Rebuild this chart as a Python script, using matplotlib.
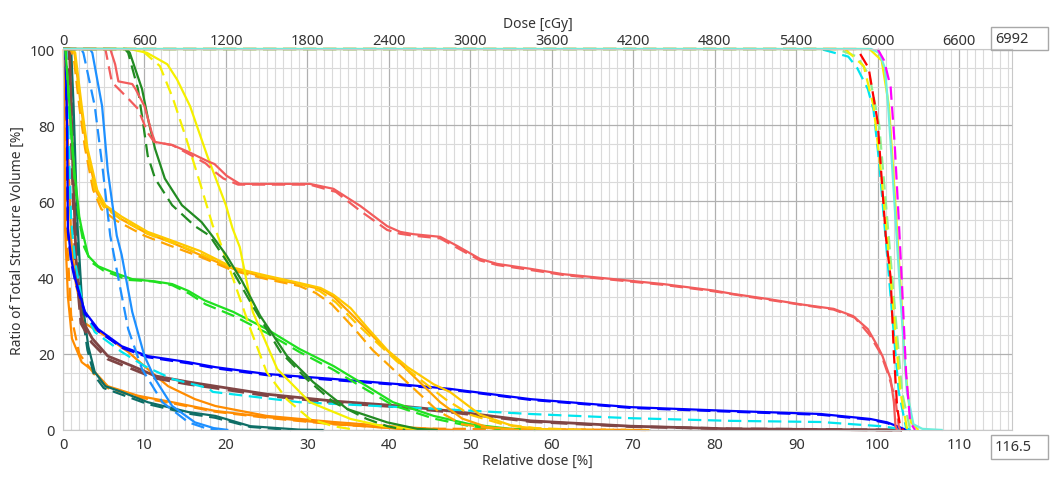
import numpy as np
import matplotlib
matplotlib.use("Agg")
import matplotlib.pyplot as plt
from matplotlib.patches import Rectangle

plt.rcParams['font.family'] = ['Noto Sans', 'DejaVu Sans']

# dose (% of prescription), volume (%)
salmon_solid = [(0,100),(5.8,100),(6.4,96),(6.8,91.5),(8.5,90.8),(8.9,89.5),(10,85),(10.9,78),(11.3,75.6),
	(13.4,74.8),(15.4,73),(17.8,70.5),(18.6,69.8),(20.1,66.7),(21.7,64.6),(30.3,64.6),(33.2,63.3),(36.5,58.8),
	(39.8,53.5),(41.4,52),(43,51.4),(46.3,50.7),(48.4,48.3),(51.2,44.9),(53.3,43.6),(57.4,42.3),(61.4,40.9),
	(67.6,39.6),(73.7,38.3),(79.9,36.6),(82.3,35.7),(86.5,34.4),(90.5,33),(94.6,31.8),(97,29.9),(98.8,26.5),
	(100,22),(100.6,19.4),(101.6,13.4),(102,7.3),(102.2,1),(102.4,0)]
salmon_dashed = [(0,100),(5.2,100),(6,91.3),(8,87),(9.2,84.3),(10.4,78),(11.2,75.6),(13.4,74.8),(15.4,72.5),
	(17.5,70),(18.5,68),(19.7,66),(21.5,64.4),(30.3,64.4),(33.5,62.5),(36.5,57.5),(39.8,52.5),(41.4,51.5),
	(43,51),(46.3,50.3),(48.4,47.8),(51.2,44.5),(53.3,43.3),(57.4,42),(61.4,40.7),(67.6,39.4),(73.7,38.1),
	(79.9,36.4),(86.5,34.2),(94.6,31.6),(97.2,29.5),(99,25),(100.4,20),(101.4,14),(102.2,8),(102.6,1),(102.8,0)]

red_ptv_dashed = [(0,100),(97.5,100),(98.9,95),(100,81),(100.6,63),(101,51),(101.6,40),(102,20),(102.4,6),(102.8,0.5),(103.2,0)]
magenta_dashed = [(0,100),(100,100),(100.8,97),(101.6,90),(102.1,75),(102.6,55),(103,38),(103.5,15),(104,2),(104.6,0)]
aqua_solid = [(0,100),(99.2,100),(100.2,99),(100.9,95),(101.3,85),(101.7,72),(102.3,52),(102.8,35),(103.6,10),(104.4,1.5),(105.5,0.3),(108,0)]
yellow_ptv_solid = [(0,100),(99,100),(100.5,97),(101.4,85),(102.1,62),(102.7,42),(103.4,16),(104.1,2),(105,0)]
yellow_ptv_dashed = [(0,100),(96,100),(98.3,95.5),(99.5,85),(100.4,68),(101.2,50),(102,30),(102.8,10),(103.6,0.5),(104.2,0)]
cyan_ptv_dashed = [(0,100),(93,100),(96.4,98),(97.5,95),(98.8,89.5),(99.5,84),(100.2,70),(101,50),(101.8,30),(102.6,10),(103.5,0.5),(104,0)]
lgreen_ptv_dashed = [(0,100),(95,100),(97.5,98),(99,93),(100.2,80),(101.2,55),(102,35),(103,10),(104,0)]

dodger_solid = [(0,100),(3.3,100),(3.6,99),(4.8,85),(5.5,68),(6.6,51),(7.2,46),(8.5,31),(10,19.4),(11.3,13.4),(13.4,6.3),(16.2,2),(18.5,0.5),(20.3,0)]
dodger_dashed = [(0,100),(2.2,100),(2.5,99),(3.9,85),(4.9,68),(5.8,51),(6.6,42),(8,26.5),(9.7,16),(12.2,7.3),(15.4,2),(17.5,0.5),(19,0)]

forest_solid = [(0,100),(7.8,100),(8.2,99),(9.7,89.5),(10.5,81),(11.3,73.8),(12.5,66),(14.6,59),(17,54.6),(18.3,51),
	(20,46),(22,39),(24.2,30),(27.5,19.4),(30.7,12.6),(34.9,5.5),(39.8,2),(43.5,0.3),(46,0)]
forest_dashed = [(0,100),(7.6,100),(8,99),(9.2,89.5),(9.8,81),(10.4,72),(11.3,66),(13.4,59),(16.2,53.5),(18,51),
	(20.5,43),(23.3,32.5),(26.7,20.5),(29.9,13.4),(33.2,7.3),(37.3,2.9),(39.8,1),(42,0)]

yellow_solid = [(0,100),(8.2,100),(10.3,99),(12.8,96),(14,92),(15.6,85),(17.7,72),(20,59),(20.8,53),(21.7,48),
	(23.3,31),(26.3,16),(30.3,7.3),(35.3,2.9),(39.3,1),(45,0)]
yellow_dashed = [(0,100),(9.5,100),(11.9,95.5),(13.5,87),(15.2,76),(16.8,65),(18.4,53.5),(18.7,52.8),(20.9,39.6),
	(23,26.5),(25,15.2),(27.5,8),(30.3,2.9),(33.2,1),(36,0)]

gold_solid = [(0,100),(1.2,100),(1.5,99),(2.3,85),(3,74),(4.2,63),(5.2,59),(7.2,56),(10.4,52),(13,50),(16.8,47),
	(20.9,42.6),(25,40.5),(29,38.6),(31.6,37.3),(33.2,35.5),(35.3,32),(37.3,27),(39.8,21),(42.3,16.5),(45.5,12),
	(47.5,10),(51.2,4),(55.3,1),(60,0)]
gold_dashed = [(0,100),(1.1,100),(1.4,99),(2.2,85),(2.9,74),(4,62),(5,58.5),(7,55.5),(10.4,51.5),(13,49.5),(16.8,46.3),
	(20.9,42.5),(25,40.2),(29,38.4),(31.5,36.5),(33.5,33.5),(36,28),(38.5,23),(41,18),(44,13),(47,8),(50,4),(54,1.5),(58,0.5),(64,0)]
amber_solid = [(0,100),(1,100),(1.4,99),(2.2,85),(2.9,74),(4,63),(5,59),(7,55.5),(10.4,51.5),(13,49.5),(16.8,46),
	(20.9,42.3),(25,40),(29,38.3),(31.6,37),(33.2,35),(35.6,30),(38,24.7),(40.5,19.4),(43,14.2),(46.3,7.3),(49,3),(52,0.8),(56,0)]
amber_dashed = [(0,100),(0.9,100),(1.3,98),(2,85),(2.7,74),(3.7,63),(4.7,58),(6.5,55),(10,51),(13,48.5),(16.8,45.5),
	(20.9,41.8),(25,39.6),(29,37.8),(31,36),(33,33),(35.6,27),(38,21),(40.5,16),(43,11),(46,5),(49,1.5),(53,0.3),(72,0)]

lime_solid = [(0,100),(0.3,100),(0.8,85),(1.4,68),(2,56),(2.3,52.8),(3.1,45.7),(4.3,43),(6,41.5),(8.5,39.6),(11.3,39),
	(13.4,38.3),(15.4,36.5),(17.4,34),(20.9,31),(25,26.5),(29,21.3),(33.2,16.8),(37.3,11.5),(40.5,7.3),(45.5,3.7),(50,1.5),(55,0.3),(58,0)]
lime_dashed = [(0,100),(0.3,100),(0.8,84),(1.4,66),(2,55),(2.6,48),(3.5,44),(5,41.8),(8,39.4),(11,39),(13.4,38),
	(15.5,35.8),(17.5,33),(20.9,30),(25,25.5),(29,20.5),(33.2,15.8),(37.3,10.5),(40.5,6.5),(45.5,3),(50,1),(55,0)]

blue_solid = [(0,100),(0.3,100),(0.5,80),(0.6,53),(1,45),(1.5,39.6),(2.7,31),(4.3,26.5),(7.2,22),(10.4,19.4),(15.4,17.8),
	(18.7,16.5),(25,14.7),(33.2,13.4),(41.4,12),(47.5,10.8),(57.4,8.1),(69.7,6),(82,5),(93,4.2),(99.1,2.9),(101.2,2),(103.2,0.3),(104,0)]
blue_dashed = [(0,100),(0.3,100),(0.5,78),(0.6,52),(1,44),(1.5,39),(2.7,30.5),(4.3,26),(7.2,21.6),(10.4,19.1),(15.4,17.5),
	(18.7,16.2),(25,14.4),(33.2,13.1),(41.4,11.8),(47.5,10.6),(57.4,7.9),(69.7,5.8),(82,4.8),(93,4),(99.1,2.7),(101.2,1.8),(103,0.2),(104,0)]

cyan_dashed = [(0,100),(0.4,100),(0.7,75),(1,55),(1.5,44),(2.5,32),(3.9,25.7),(7.2,20.5),(10,16.8),(13.4,13.4),(17.8,11),
	(18.4,10),(29,7.3),(41.4,6),(46.3,5.5),(57.4,4.2),(69.7,3.1),(82,2.4),(93,2.1),(100.4,1),(102.8,0.3),(104,0)]

brown_solid = [(0,100),(0.8,100),(1.2,70),(1.6,45),(2.3,29),(3.6,24),(5.5,19.4),(8.5,16.8),(11.3,14.2),(15.4,12.6),(18.7,11.5),
	(25,9.4),(33.2,7.6),(41.4,6.3),(47.5,5),(57.4,2.4),(69.7,1),(82,0.3),(95,0.1),(103,0)]
brown_dashed = [(0,100),(0.7,100),(1.1,70),(1.5,45),(2.2,28),(3.5,23),(5.5,18.6),(8.5,16),(11.3,13.6),(15.4,12),(18.7,11),
	(25,9),(33.2,7.2),(41.4,6),(47.5,4.7),(57.4,2.2),(69.7,0.9),(82,0.3),(103,0)]

teal_solid = [(0,100),(1,100),(1.3,85),(1.6,65),(1.8,53),(2.3,35),(3.1,22),(3.9,15.2),(5.2,11.5),(7.2,10),(10.4,7.3),
	(15.4,4.7),(18.7,3.7),(23,1),(29,0.1),(32,0)]
teal_dashed = [(0,100),(0.8,100),(1.1,85),(1.4,65),(1.7,50),(2.2,33),(3,21),(3.8,14.5),(5,11),(7.2,9.3),(10.4,6.8),
	(15.4,4.3),(18.7,3.2),(23,0.8),(28,0)]

orange1_solid = [(0,100),(0.1,100),(0.2,80),(0.25,53),(0.6,35),(1.1,24),(2.3,17.8),(3.9,15.2),(5.5,11.5),(9.2,9),
	(13.4,7.3),(18.7,5),(25,3.4),(33.2,1.6),(41.4,0.3),(45,0)]
orange2_solid = [(0,100),(0.3,100),(0.6,75),(1,50),(1.6,38),(2.7,28),(5.2,24.7),(8,20.5),(10.4,16),(12.9,11.5),(16.2,8.1),
	(18.7,6.3),(25,3.7),(33.2,2.1),(41.4,0.8),(48,0)]
orange_dashed = [(0,100),(0.15,100),(0.3,75),(0.5,50),(1,30),(2,20),(3.9,14.5),(5.5,11),(9.2,8.6),(13.4,7),(18.7,4.8),
	(25,3.2),(33.2,1.5),(41.4,0.4),(72,0)]

x_ticks = [0, 10, 20, 30, 40, 50, 60, 70, 80, 90, 100, 110]
top_labels = ["0", "600", "1200", "1800", "2400", "3000", "3600", "4200", "4800", "5400", "6000", "6600"]
y_ticks = [0, 20, 40, 60, 80, 100]
x_max = 116.5
dose_max = "6992"

# (curve, colour, dashed?) - drawn in this order
curves = [
	(orange_dashed, "#ff8c00", True),
	(orange1_solid, "#ff8c00", False),
	(orange2_solid, "#ff8c00", False),
	(teal_dashed, "#0e6e66", True),
	(teal_solid, "#0e6e66", False),
	(brown_dashed, "#804545", True),
	(brown_solid, "#804545", False),
	(cyan_dashed, "#00e5ee", True),
	(blue_dashed, "#0000ff", True),
	(blue_solid, "#0000ff", False),
	(lime_dashed, "#20e020", True),
	(lime_solid, "#20e020", False),
	(amber_dashed, "#ffa500", True),
	(amber_solid, "#ffa500", False),
	(gold_dashed, "#ffc800", True),
	(gold_solid, "#ffc800", False),
	(yellow_dashed, "#f5f000", True),
	(yellow_solid, "#f5f000", False),
	(forest_dashed, "#228b22", True),
	(forest_solid, "#228b22", False),
	(dodger_dashed, "#1e90ff", True),
	(dodger_solid, "#1e90ff", False),
	(salmon_dashed, "#f25c5c", True),
	(salmon_solid, "#f25c5c", False),
	(yellow_ptv_solid, "#f5f000", False),
	(lgreen_ptv_dashed, "#90ee90", True),
	(cyan_ptv_dashed, "#00e5ee", True),
	(yellow_ptv_dashed, "#f5f000", True),
	(red_ptv_dashed, "#ff0000", True),
	(aqua_solid, "#6eeedc", False),
	(magenta_dashed, "#ff00ff", True),
]

fig = plt.figure(figsize=(10.5, 4.81), dpi=100)
ax = fig.add_axes([63/1050, 50/481, (1012-63)/1050, (431-50)/481])

for pts, col, dashed in curves:
	pts = np.array(pts)
	ls = (0, (6, 3)) if dashed else "-"
	lw = 2.0 if col == "#804545" else 1.6
	# magenta only shows its dashes once it leaves the 100 % line
	if col == "#ff00ff":
		pts = pts[1:]
	ax.plot(pts[:, 0], pts[:, 1], color=col, lw=lw, linestyle=ls, clip_on=False, solid_capstyle="butt")

ax.set_xlim(0, x_max)
ax.set_ylim(0, 100)
ax.set_xticks(x_ticks)
ax.set_xticks(np.arange(0, 117, 1), minor=True)
ax.set_yticks(y_ticks)
ax.set_yticks(np.arange(0, 101, 5), minor=True)
ax.grid(which="major", color="#b0b0b0", lw=0.9)
ax.grid(which="minor", color="#dadada", lw=0.8)
ax.set_axisbelow(True)
ax.tick_params(which="both", length=0, labelsize=10.5, labelcolor="#333333")
ax.tick_params(axis="x", pad=5)
ax.tick_params(axis="y", pad=6)
for s in ax.spines.values():
	s.set_color("#c8c8c8")
ax.set_xlabel("Relative dose [%]", fontsize=10, color="#333333", labelpad=1)
ax.set_ylabel("Ratio of Total Structure Volume [%]", fontsize=10, color="#333333", labelpad=3)

ax2 = ax.twiny()
ax2.set_xlim(0, x_max)
ax2.set_xticks(x_ticks)
ax2.set_xticklabels(top_labels)
ax2.tick_params(length=0, labelsize=10.5, labelcolor="#333333", pad=1)
for s in ax2.spines.values():
	s.set_visible(False)
ax2.set_xlabel("Dose [cGy]", fontsize=10, color="#333333", labelpad=4)

# value boxes at the right end of the axes
fig.add_artist(Rectangle((991/1050, (481-51)/481), 57/1050, 23/481, transform=fig.transFigure,
	fill=False, ec="#a8a8a8", lw=1))
fig.text(995/1050, (481-39.5)/481, dose_max, fontsize=10.5, color="#333333", va="center")
fig.add_artist(Rectangle((991/1050, (481-460)/481), 57/1050, 24/481, transform=fig.transFigure,
	fill=False, ec="#a8a8a8", lw=1))
fig.text(995/1050, (481-448)/481, str(x_max), fontsize=10.5, color="#333333", va="center")

fig.savefig("out.png", dpi=100)
